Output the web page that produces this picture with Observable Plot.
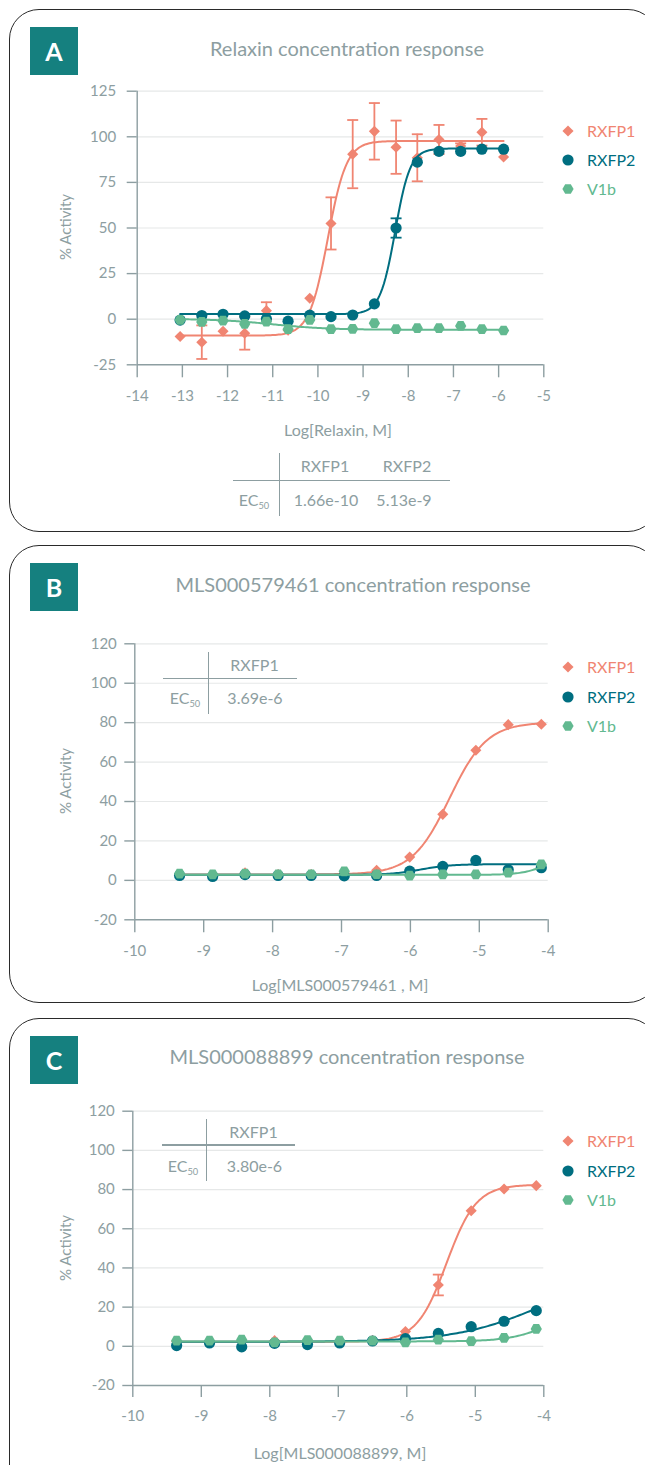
<!DOCTYPE html>
<html>
<head>
<meta charset="utf-8">
<script src="https://cdn.jsdelivr.net/npm/d3@7"></script>
<script src="https://cdn.jsdelivr.net/npm/@observablehq/plot@0.6"></script>
<style>
  body { margin: 0; background: #fff; font-family: Lato, "Open Sans", sans-serif; }
  #page { position: relative; width: 645px; height: 1465px; overflow: hidden; background: #fff; }
  .panel { position: absolute; border: 1.4px solid #2a2a2a; border-radius: 30px; box-sizing: border-box; }
  .tag { position: absolute; width: 48px; height: 48px; background: #15807f; color: #fff;
         font: 700 25px Lato, sans-serif; display: flex; align-items: center; justify-content: center; }
  .t { position: absolute; white-space: nowrap; color: #8d9ea1; line-height: 1; }
  .rule { position: absolute; background: #8d9ea1; }
  .chart { position: absolute; left: 0; }
  sub { font-size: 0.58em; vertical-align: -0.35em; }
</style>
</head>
<body>
<div id="page"></div>
<script>
// ---------- Relaxin (panel A) ----------
const logRelaxin = [-13.05, -12.57, -12.10, -11.62, -11.14, -10.66, -10.18, -9.71, -9.23, -8.75, -8.27, -7.80, -7.32, -6.84, -6.37, -5.89];
const relaxinRXFP1 = [-9.5, -12.6, -6.6, -7.7, 4.7, -6.0, 11.5, 52.5, 90.5, 103.0, 94.3, 88.5, 98.5, 94.9, 102.5, 88.9];
const relaxinRXFP1Err = [0, 9.2, 0, 9.0, 4.6, 0, 0, 14.3, 18.7, 15.5, 14.6, 12.9, 8.0, 1.5, 7.3, 0];
const relaxinRXFP2 = [-0.5, 2.0, 2.7, 1.8, 0.2, -1.1, 2.2, 1.4, 2.3, 8.4, 50.0, 86.1, 92.0, 92.0, 93.2, 93.2];
const relaxinRXFP2Err = [0, 0, 0, 0, 0, 0, 0, 0, 0, 0, 5.3, 0, 0, 0, 0, 0];
const relaxinV1b = [-0.4, -1.5, -0.8, -2.6, -1.3, -5.5, -0.4, -5.5, -5.3, -2.2, -5.5, -4.9, -4.9, -3.7, -5.5, -6.2];
// four-parameter logistic fits: [low plateau, high plateau, logEC50, Hill slope]
const relaxinFitRXFP1 = [-9.0, 97.7, Math.log10(1.66e-10), 2.1];
const relaxinFitRXFP2 = [2.8, 93.6, Math.log10(5.13e-9), 2.6];
const relaxinFitV1b = [0.2, -5.8, -11.0, 0.7];

// ---------- MLS000579461 (panel B) ----------
const logMLS579 = [-9.35, -8.87, -8.40, -7.92, -7.44, -6.96, -6.49, -6.01, -5.53, -5.05, -4.58, -4.10];
const mls579RXFP1 = [3.0, 2.6, 3.8, 3.0, 3.0, 3.6, 5.1, 11.8, 33.5, 66.0, 79.0, 79.2];
const mls579RXFP2 = [2.5, 2.0, 2.9, 2.5, 2.5, 2.3, 2.5, 4.7, 7.1, 10.1, 5.4, 6.4];
const mls579V1b = [3.4, 3.0, 3.4, 3.1, 3.1, 4.6, 3.1, 2.4, 3.0, 3.0, 3.9, 8.1];
const mls579FitRXFP1 = [3.0, 80.2, Math.log10(3.69e-6), 1.6];
const mls579FitRXFP2 = [2.8, 8.2, -5.85, 2.0];
const mls579FitV1b = [2.8, 12.0, -4.05, 2.5];

// ---------- MLS000088899 (panel C) ----------
const logMLS889 = [-9.36, -8.88, -8.41, -7.93, -7.45, -6.98, -6.50, -6.02, -5.54, -5.06, -4.58, -4.11];
const mls889RXFP1 = [2.5, 2.5, 2.8, 2.9, 2.5, 2.6, 3.0, 7.5, 31.3, 69.2, 80.3, 82.0];
const mls889RXFP1Err = [0, 0, 0, 0, 0, 0, 0, 0, 5.3, 0, 0, 0];
const mls889RXFP2 = [0.4, 1.7, -0.3, 1.5, 0.9, 1.7, 2.7, 3.9, 6.6, 10.0, 12.8, 18.2];
const mls889V1b = [2.9, 2.9, 3.4, 2.0, 3.2, 2.9, 2.9, 2.0, 3.4, 2.6, 4.3, 8.9];
const mls889FitRXFP1 = [2.3, 82.5, Math.log10(3.80e-6), 2.0];
const mls889FitRXFP2 = [2.3, 38.0, -4.05, 0.7];
const mls889FitV1b = [2.5, 20.0, -3.9, 1.5];

// ---------- shared labels ----------
const receptors = ["RXFP1", "RXFP2", "V1b"];
const receptorColors = ["#f08572", "#006e80", "#62b990"];
const relaxinTicksX = [-14, -13, -12, -11, -10, -9, -8, -7, -6, -5];
const relaxinTicksY = [-25, 0, 25, 50, 75, 100, 125];
const mlsTicksX = [-10, -9, -8, -7, -6, -5, -4];
const mlsTicksY = [-20, 0, 20, 40, 60, 80, 100, 120];

const axisColor = "#8d9ea1";
const textColor = "#8d9ea1";
const gridColor = "#e6e8e8";

// marker shapes
const hexagon = {
  draw(ctx, size) {
    const r = Math.sqrt(size / Math.PI) * 1.08;
    for (let i = 0; i < 6; i++) {
      const a = i * Math.PI / 3;
      if (i === 0) ctx.moveTo(r * Math.cos(a), r * Math.sin(a));
      else ctx.lineTo(r * Math.cos(a), r * Math.sin(a));
    }
    ctx.closePath();
  }
};
const cap = {
  draw(ctx, size) {
    const r = Math.sqrt(size / Math.PI);
    ctx.moveTo(-r, 0);
    ctx.lineTo(r, 0);
  }
};
const markerSymbols = [d3.symbolDiamond2, d3.symbolCircle, hexagon];
const markerRadius = [5.0, 5.6, 5.2];

// logistic fit evaluated along the concentration range
function fitCurve(params, xs) {
  const [a, b, c, h] = params;
  const lo = d3.min(xs), hi = d3.max(xs);
  const n = 200;
  return d3.range(n + 1).map(i => {
    const x = lo + (hi - lo) * i / n;
    return {x, y: a + (b - a) / (1 + Math.pow(10, (c - x) * h))};
  });
}

const page = document.getElementById("page");

function addText(html, x, y, opts = {}) {
  const el = document.createElement("div");
  el.className = "t";
  el.innerHTML = html;
  el.style.left = x + "px";
  el.style.top = y + "px";
  el.style.fontSize = (opts.size || 15) + "px";
  if (opts.color) el.style.color = opts.color;
  const ax = opts.anchor === "start" ? "0" : opts.anchor === "end" ? "-100%" : "-50%";
  el.style.transform = `translate(${ax}, -50%)` + (opts.rotate ? ` rotate(${opts.rotate}deg)` : "");
  page.appendChild(el);
  return el;
}
function addRule(x, y, w, h) {
  const el = document.createElement("div");
  el.className = "rule";
  Object.assign(el.style, {left: x + "px", top: y + "px", width: w + "px", height: h + "px"});
  page.appendChild(el);
}
function addPanel(letter, top, height) {
  const p = document.createElement("div");
  p.className = "panel";
  Object.assign(p.style, {left: "9px", top: top + "px", width: "649px", height: height + "px"});
  page.appendChild(p);
  const tag = document.createElement("div");
  tag.className = "tag";
  tag.textContent = letter;
  Object.assign(tag.style, {left: "30px", top: (top + 18) + "px"});
  page.appendChild(tag);
}
function addLegend(x, ys) {
  receptors.forEach((name, i) => {
    const path = d3.symbol(markerSymbols[i], Math.PI * markerRadius[i] ** 2)();
    const svg = `<svg width="14" height="14" viewBox="-7 -7 14 14" style="position:absolute;left:${x - 7}px;top:${ys[i] - 7}px"><path d="${path}" fill="${receptorColors[i]}"/></svg>`;
    page.insertAdjacentHTML("beforeend", svg);
    addText(name, x + 19, ys[i], {anchor: "start", size: 16, color: receptorColors[i]});
  });
}

function drawChart(cfg) {
  const series = receptors.map((name, i) => ({
    name,
    color: receptorColors[i],
    points: cfg.xs.map((x, j) => ({x, y: cfg.values[i][j], e: cfg.errors[i] ? cfg.errors[i][j] : 0})),
    curve: fitCurve(cfg.fits[i], cfg.xs)
  }));
  const marks = [
    Plot.gridY(cfg.yTicks.slice(1), {stroke: gridColor, strokeOpacity: 1, strokeWidth: 1.2}),
    Plot.ruleX([cfg.xDomain[0]], {stroke: axisColor, strokeWidth: 1.4}),
    Plot.ruleY([cfg.yDomain[0]], {stroke: axisColor, strokeWidth: 1.4}),
    Plot.axisX(cfg.xTicks, {tickSize: cfg.tickX, tickPadding: 13, stroke: axisColor, strokeWidth: 1.4, fill: textColor,
      fontSize: 15, tickFormat: d => String(d), label: null}),
    Plot.axisY(cfg.yTicks, {tickSize: 10, tickPadding: cfg.padY, stroke: axisColor, strokeWidth: 1.4, fill: textColor,
      fontSize: 15, tickFormat: d => String(d), label: null})
  ];
  series.forEach((s, i) => {
    const withErr = s.points.filter(d => d.e > 0);
    marks.push(
      Plot.line(s.curve, {x: "x", y: "y", stroke: s.color, strokeWidth: 2, curve: "linear"}),
      Plot.ruleX(withErr, {x: "x", y1: d => d.y - d.e, y2: d => d.y + d.e, stroke: s.color, strokeWidth: 1.8}),
      Plot.dot(withErr, {x: "x", y: d => d.y - d.e, symbol: cap, r: 5.5, stroke: s.color, strokeWidth: 1.8, fill: "none"}),
      Plot.dot(withErr, {x: "x", y: d => d.y + d.e, symbol: cap, r: 5.5, stroke: s.color, strokeWidth: 1.8, fill: "none"}),
      Plot.dot(s.points, {x: "x", y: "y", symbol: markerSymbols[i], r: markerRadius[i], fill: s.color, stroke: "none"})
    );
  });
  const chart = Plot.plot({
    width: 645,
    height: cfg.svgH,
    marginLeft: cfg.frame[0],
    marginRight: 645 - cfg.frame[1],
    marginTop: cfg.frame[2] - cfg.svgTop,
    marginBottom: cfg.svgTop + cfg.svgH - cfg.frame[3],
    x: {domain: cfg.xDomain},
    y: {domain: cfg.yDomain},
    style: {fontFamily: "Lato, sans-serif", fontSize: "15px", background: "transparent", overflow: "visible"},
    marks
  });
  chart.classList.add("chart");
  chart.style.top = cfg.svgTop + "px";
  page.appendChild(chart);
}

// ---------- panel A ----------
addPanel("A", 9, 523);
addText("Relaxin concentration response", 347, 48, {size: 20});
drawChart({
  svgTop: 60, svgH: 400, frame: [136.7, 543.3, 90.7, 364.3],
  xDomain: [-14, -5], yDomain: [-25, 125], xTicks: relaxinTicksX, yTicks: relaxinTicksY, tickX: 13, padY: 11,
  xs: logRelaxin,
  values: [relaxinRXFP1, relaxinRXFP2, relaxinV1b],
  errors: [relaxinRXFP1Err, relaxinRXFP2Err, null],
  fits: [relaxinFitRXFP1, relaxinFitRXFP2, relaxinFitV1b]
});
addText("% Activity", 65, 227, {size: 15, rotate: -90});
addText("Log[Relaxin, M]", 338, 430, {size: 16});
addLegend(568, [131, 160, 189]);
// EC50 table
addRule(233, 479.5, 217, 1.3);
addRule(278.5, 453, 1.3, 63);
addText("RXFP1", 325, 466, {size: 16});
addText("RXFP2", 407, 466, {size: 16});
addText("EC<sub>50</sub>", 254, 501, {size: 16});
addText("1.66e-10", 326, 500, {size: 16});
addText("5.13e-9", 404, 500, {size: 16});

// ---------- panel B ----------
addPanel("B", 545, 458);
addText("MLS000579461 concentration response", 353, 584, {size: 20});
drawChart({
  svgTop: 620, svgH: 360, frame: [134.3, 547.7, 643.3, 919.3],
  xDomain: [-10, -4], yDomain: [-20, 120], xTicks: mlsTicksX, yTicks: mlsTicksY, tickX: 13, padY: 8,
  xs: logMLS579,
  values: [mls579RXFP1, mls579RXFP2, mls579V1b],
  errors: [null, null, null],
  fits: [mls579FitRXFP1, mls579FitRXFP2, mls579FitV1b]
});
addText("% Activity", 65, 781, {size: 15, rotate: -90});
addText("Log[MLS000579461 , M]", 340, 985, {size: 16});
addLegend(568, [667, 697, 726]);
addRule(163, 677.7, 134, 1.3);
addRule(207.7, 652, 1.3, 62);
addText("RXFP1", 254.5, 665, {size: 16});
addText("EC<sub>50</sub>", 185, 699, {size: 16});
addText("3.69e-6", 255, 698, {size: 16});

// ---------- panel C ----------
addPanel("C", 1018, 500);
addText("MLS000088899 concentration response", 347, 1056, {size: 20});
drawChart({
  svgTop: 1090, svgH: 340, frame: [132.3, 543.3, 1110.7, 1385],
  xDomain: [-10, -4], yDomain: [-20, 120], xTicks: mlsTicksX, yTicks: mlsTicksY, tickX: 12, padY: 8,
  xs: logMLS889,
  values: [mls889RXFP1, mls889RXFP2, mls889V1b],
  errors: [mls889RXFP1Err, null, null],
  fits: [mls889FitRXFP1, mls889FitRXFP2, mls889FitV1b]
});
addText("% Activity", 65, 1248, {size: 15, rotate: -90});
addText("Log[MLS000088899, M]", 340, 1453, {size: 16});
addLegend(568, [1141, 1171, 1200]);
addRule(162, 1144.4, 133, 1.3);
addRule(206, 1119, 1.3, 62);
addText("RXFP1", 253.5, 1132, {size: 16});
addText("EC<sub>50</sub>", 183, 1167, {size: 16});
addText("3.80e-6", 254.5, 1166, {size: 16});
</script>
</body>
</html>
